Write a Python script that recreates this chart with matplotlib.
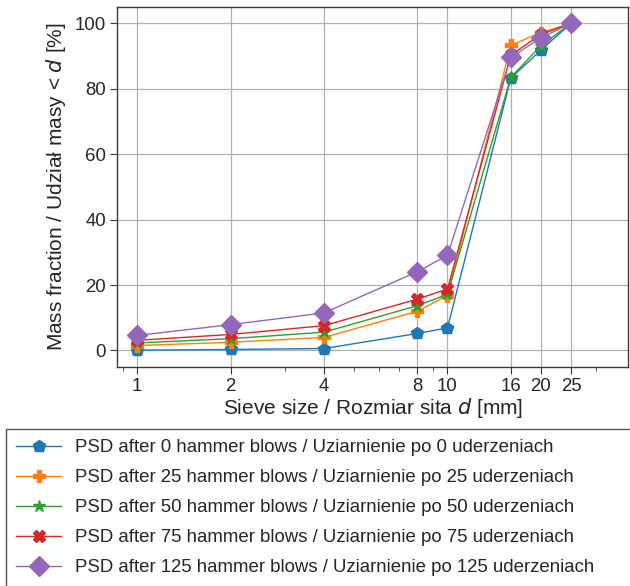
import matplotlib
matplotlib.use('Agg')
import matplotlib.pyplot as plt
from matplotlib.ticker import FixedLocator, FixedFormatter, LogLocator, NullFormatter

plt.rcParams['font.family'] = ['Liberation Sans', 'DejaVu Sans']

# sieve sizes [mm] and cumulative mass passing [%]
sieves = [1, 2, 4, 8, 10, 16, 20, 25]
psd_0 = [0.1, 0.3, 0.6, 5.2, 6.9, 83.3, 91.8, 100]
psd_25 = [1.5, 2.5, 4.0, 12.0, 16.8, 93.3, 97.2, 100]
psd_50 = [2.3, 3.6, 5.6, 13.7, 17.2, 83.5, 93.2, 100]
psd_75 = [3.1, 4.9, 7.6, 15.7, 18.8, 90.3, 96.6, 100]
psd_125 = [4.6, 7.9, 11.5, 24.1, 29.1, 89.6, 95.6, 100]

series = [
    (psd_0, '#1f77b4', 'p', 9, 'PSD after 0 hammer blows / Uziarnienie po 0 uderzeniach'),
    (psd_25, '#ff7f0e', 'P', 9, 'PSD after 25 hammer blows / Uziarnienie po 25 uderzeniach'),
    (psd_50, '#2ca02c', '*', 9, 'PSD after 50 hammer blows / Uziarnienie po 50 uderzeniach'),
    (psd_75, '#d62728', 'X', 9, 'PSD after 75 hammer blows / Uziarnienie po 75 uderzeniach'),
    (psd_125, '#9467bd', 'D', 10, 'PSD after 125 hammer blows / Uziarnienie po 125 uderzeniach'),
]

fig = plt.figure(figsize=(6.3, 5.86), dpi=100)
ax = fig.add_axes([0.186, 0.374, 0.811, 0.614])

for vals, col, mk, ms, lab in series:
    ax.plot(sieves, vals, color=col, marker=mk, markersize=ms, lw=1.0, label=lab)

ax.set_xscale('log', base=2)
ax.set_xlim(0.862, 38.2)
ax.set_ylim(-5, 105)
ax.xaxis.set_major_locator(FixedLocator(sieves))
ax.xaxis.set_major_formatter(FixedFormatter([str(s) for s in sieves]))
ax.xaxis.set_minor_locator(LogLocator(base=10, subs=range(1, 10)))
ax.xaxis.set_minor_formatter(NullFormatter())
ax.set_yticks([0, 20, 40, 60, 80, 100])

ax.grid(True, which='major', color='#b0b0b0', lw=0.9)
ax.set_axisbelow(True)
for sp in ax.spines.values():
    sp.set_color('#3a3a3a')
    sp.set_linewidth(1.0)
ax.tick_params(axis='both', which='major', labelsize=13.4, direction='out', length=5,
               color='#3a3a3a', labelcolor='#262626', pad=3)
ax.tick_params(axis='x', which='minor', direction='out', length=3, color='#3a3a3a')
ax.tick_params(axis='y', which='minor', left=False)

ax.set_xlabel('Sieve size / Rozmiar sita $\\it{d}$ [mm]', fontsize=15, color='#262626', labelpad=1)
ax.set_ylabel('Mass fraction / Udział masy < $\\it{d}$ [%]', fontsize=15, color='#262626', labelpad=5)

leg = ax.legend(loc='upper left', bbox_to_anchor=(0.0095, 0.268, 0.995, 0.0),
                bbox_transform=fig.transFigure, mode='expand', fontsize=13.4,
                fancybox=False, edgecolor='#555555', framealpha=1,
                handlelength=2.4, handletextpad=0.75, borderpad=0.55,
                labelspacing=0.7, borderaxespad=0)
for t in leg.get_texts():
    t.set_color('#262626')

fig.savefig('out.png', dpi=100)
